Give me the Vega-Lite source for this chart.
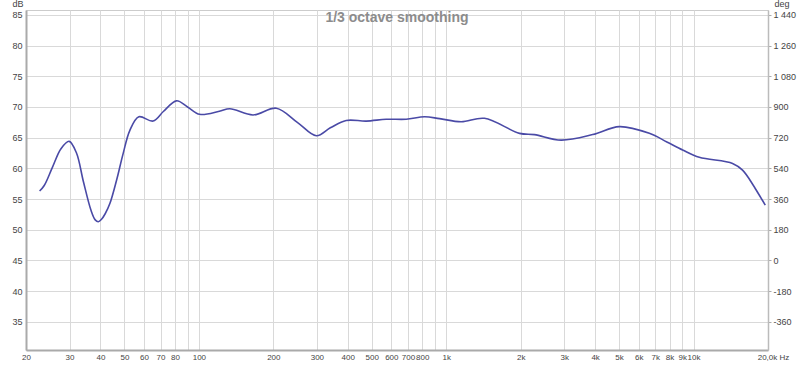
{
  "$schema": "https://vega.github.io/schema/vega-lite/v6.json",
  "width": 742,
  "height": 340,
  "autosize": {"type": "none"},
  "padding": {"left": 26, "top": 10, "right": 32, "bottom": 15},
  "background": "white",
  "config": {
    "view": {"stroke": "#cccccc", "strokeWidth": 1},
    "font": "Liberation Sans",
    "axis": {"labelFont": "Liberation Sans", "labelFontSize": 9, "labelColor": "#444444", "titleFont": "Liberation Sans", "titleFontSize": 9, "titleFontWeight": "normal", "titleColor": "#444444"}
  },
  "title": {
    "text": "1/3 octave smoothing",
    "anchor": "middle",
    "offset": -26,
    "fontSize": 14,
    "fontWeight": "bold",
    "color": "#8c8c8c",
    "font": "Liberation Sans"
  },
  "datasets": {
    "curve": [
      {"f": 22.7, "db": 56.3},
      {"f": 23.7, "db": 57.2},
      {"f": 25.6, "db": 60.2},
      {"f": 27.7, "db": 63.2},
      {"f": 29.9, "db": 64.4},
      {"f": 32.0, "db": 62.5},
      {"f": 34.1, "db": 57.9},
      {"f": 36.6, "db": 53.2},
      {"f": 38.1, "db": 51.6},
      {"f": 39.2, "db": 51.3},
      {"f": 40.4, "db": 51.7},
      {"f": 41.8, "db": 52.6},
      {"f": 43.7, "db": 54.3},
      {"f": 46.5, "db": 58.1},
      {"f": 49.4, "db": 62.4},
      {"f": 52.6, "db": 66.2},
      {"f": 57.2, "db": 68.4},
      {"f": 65.3, "db": 67.7},
      {"f": 72, "db": 69.3},
      {"f": 81.2, "db": 71.0},
      {"f": 90, "db": 70.0},
      {"f": 100.8, "db": 68.8},
      {"f": 121, "db": 69.3},
      {"f": 133.4, "db": 69.7},
      {"f": 165.6, "db": 68.7},
      {"f": 205.8, "db": 69.8},
      {"f": 250, "db": 67.5},
      {"f": 298.6, "db": 65.3},
      {"f": 340, "db": 66.6},
      {"f": 394, "db": 67.8},
      {"f": 475, "db": 67.7},
      {"f": 572, "db": 68.0},
      {"f": 689, "db": 68.0},
      {"f": 818, "db": 68.4},
      {"f": 940, "db": 68.1},
      {"f": 1150, "db": 67.6},
      {"f": 1428, "db": 68.15},
      {"f": 1978, "db": 65.7},
      {"f": 2274, "db": 65.5},
      {"f": 2915, "db": 64.6},
      {"f": 3910, "db": 65.5},
      {"f": 5013, "db": 66.8},
      {"f": 6625, "db": 65.7},
      {"f": 7800, "db": 64.3},
      {"f": 9034, "db": 63.0},
      {"f": 10550, "db": 61.8},
      {"f": 14380, "db": 60.8},
      {"f": 15780, "db": 59.7},
      {"f": 17590, "db": 57.0},
      {"f": 19500, "db": 54.0}
    ],
    "deg": [{"deg": -525.6}, {"deg": 1468.8}]
  },
  "layer": [
    {
      "data": {"name": "curve"},
      "mark": {"type": "line", "color": "#4a4aa6", "strokeWidth": 1.6, "interpolate": "catmull-rom", "clip": true},
      "encoding": {
        "x": {
          "field": "f", "type": "quantitative",
          "scale": {"type": "log", "domain": [20, 20000], "nice": false},
          "axis": {
            "title": null,
            "values": [20, 30, 40, 50, 60, 70, 80, 90, 100, 200, 300, 400, 500, 600, 700, 800, 900, 1000, 2000, 3000, 4000, 5000, 6000, 7000, 8000, 9000, 10000, 20000],
            "labelExpr": "datum.value == 90 || datum.value == 900 ? '' : datum.value == 20000 ? '20,0k Hz' : datum.value >= 1000 ? (datum.value / 1000) + 'k' : datum.value + ''",
            "labelOverlap": false,
            "labelBound": false,
            "labelFlush": false,
            "labelFontSize": 8,
            "labelOffset": {"condition": {"test": "datum.value == 20000", "value": 5}, "value": 0},
            "labelPadding": 3,
            "ticks": false,
            "grid": true,
            "gridColor": "#d9d9d9",
            "gridWidth": 1,
            "domainColor": "#aaaaaa",
            "domainWidth": 2
          }
        },
        "y": {
          "field": "db", "type": "quantitative",
          "scale": {"domain": [30.4, 85.8], "nice": false, "zero": false},
          "axis": {
            "title": "dB",
            "titleAngle": 0,
            "titleAlign": "right",
            "titleBaseline": "bottom",
            "titleX": -3,
            "titleY": -2,
            "values": [35, 40, 45, 50, 55, 60, 65, 70, 75, 80, 85],
            "ticks": false,
            "labelPadding": 4,
            "grid": true,
            "gridColor": "#d9d9d9",
            "gridWidth": 1,
            "domainColor": "#aaaaaa",
            "domainWidth": 2
          }
        }
      }
    },
    {
      "data": {"name": "deg"},
      "mark": {"type": "point", "opacity": 0},
      "encoding": {
        "y": {
          "field": "deg", "type": "quantitative",
          "scale": {"domain": [-525.6, 1468.8], "nice": false, "zero": false},
          "axis": {
            "orient": "right",
            "title": "deg",
            "titleAngle": 0,
            "titleAlign": "left",
            "titleBaseline": "bottom",
            "titleX": 6,
            "titleY": -2,
            "values": [-360, -180, 0, 180, 360, 540, 720, 900, 1080, 1260, 1440],
            "labelExpr": "replace(replace(format(datum.value, ','), ',', ' '), '\u2212', '-')",
            "grid": false,
            "ticks": true,
            "tickSize": 3,
            "tickColor": "#aaaaaa",
            "labelPadding": 2,
            "domainColor": "#bbbbbb",
            "domainWidth": 1.5
          }
        }
      }
    }
  ],
  "resolve": {"scale": {"y": "independent"}}
}
